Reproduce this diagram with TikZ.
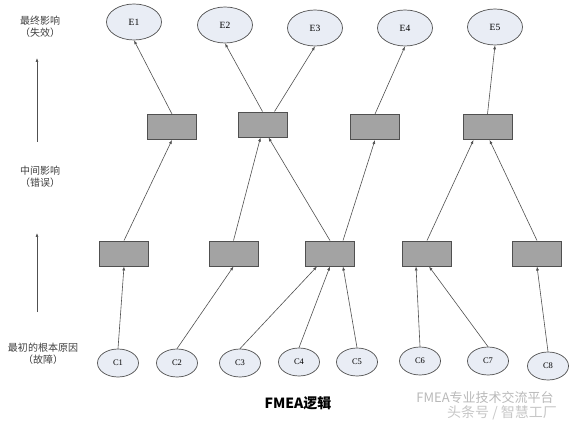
\documentclass[tikz,border=0pt]{standalone}
\usepackage{fontspec}
\setmainfont{Liberation Serif}
\newfontfamily\cjk{Noto Sans CJK SC}
\usetikzlibrary{shapes.geometric, arrows.meta, positioning, calc}
\definecolor{ovalfill}{RGB}{233,237,245}
\definecolor{boxfill}{RGB}{163,163,163}
\definecolor{edgegray}{RGB}{80,80,80}
\tikzstyle{effect} = [ellipse, draw=edgegray, line width=0.7pt, fill=ovalfill, minimum width=55pt, minimum height=36pt, inner sep=0pt, font=\fontsize{9.5}{11}\selectfont]
\tikzstyle{cause}  = [ellipse, draw=edgegray, line width=0.7pt, fill=ovalfill, minimum width=41pt, minimum height=28pt, inner sep=0pt, font=\fontsize{8.5}{10}\selectfont]
\tikzstyle{mode}   = [rectangle, draw=edgegray, line width=0.9pt, fill=boxfill, minimum width=49pt, minimum height=25pt, inner sep=0pt]
\tikzstyle{link}   = [->, >={Latex[length=4pt, width=3pt]}, line width=0.6pt, edgegray]
\tikzstyle{level}  = [align=center, text=black!75, font=\cjk\fontsize{10}{12}\selectfont]

\begin{document}
\begin{tikzpicture}[x=1pt, y=-1pt]
	\useasboundingbox (0,0) rectangle (577,427);

	% Final effects
	\node (e1) [effect] at (134,22) {E1};
	\node (e2) [effect] at (225,25) {E2};
	\node (e3) [effect] at (315,28) {E3};
	\node (e4) [effect] at (405,28) {E4};
	\node (e5) [effect] at (495,27) {E5};

	% Intermediate effects
	\node (r1) [mode] at (172,127) {};
	\node (r2) [mode] at (262.5,124.5) {};
	\node (r3) [mode] at (375,127) {};
	\node (r4) [mode] at (487.5,127) {};

	% Failure modes
	\node (m1) [mode] at (124,253.5) {};
	\node (m2) [mode] at (233.5,253.5) {};
	\node (m3) [mode] at (330,253.5) {};
	\node (m4) [mode] at (427,253.5) {};
	\node (m5) [mode] at (537,253.5) {};

	% Root causes
	\node (c1) [cause] at (118,363) {C1};
	\node (c2) [cause] at (177,363) {C2};
	\node (c3) [cause] at (240,363) {C3};
	\node (c4) [cause] at (299,362) {C4};
	\node (c5) [cause] at (357,362) {C5};
	\node (c6) [cause] at (420,361) {C6};
	\node (c7) [cause] at (488,361) {C7};
	\node (c8) [cause] at (548,366) {C8};

	% Level labels
	\node (lvl_top) [level] at (40,27)  {最终影响\\（失效）};
	\node (lvl_mid) [level] at (40,177) {中间影响\\（错误）};
	\node (lvl_bot) [level] at (43,354) {最初的根本原因\\（故障）};
	\coordinate (ax1_s) at (37,142);
	\coordinate (ax1_e) at (37,58);
	\coordinate (ax2_s) at (37,312);
	\coordinate (ax2_e) at (37,233);
	\draw[link] (ax1_s) -- (ax1_e);
	\draw[link] (ax2_s) -- (ax2_e);

	% Arrows - causes to modes
	\draw[link] (c1.north) -- (m1.south);
	\draw[link] (c2.north) -- (m2.south);
	\draw[link] (c3.north) -- ([xshift=-13pt]m3.south);
	\draw[link] (c4.north) -- (m3.south);
	\draw[link] (c5.north) -- ([xshift=13pt]m3.south);
	\draw[link] (c6.north) -- ([xshift=-11pt]m4.south);
	\draw[link] (c7.north) -- ([xshift=2pt]m4.south);
	\draw[link] (c8.north) -- (m5.south);

	% Arrows - modes to intermediate effects
	\draw[link] (m1.north) -- (r1.south);
	\draw[link] (m2.north) -- ([xshift=-2pt]r2.south);
	\draw[link] (m3.north) -- ([xshift=6pt]r2.south);
	\draw[link] ([xshift=13pt]m3.north) -- (r3.south);
	\draw[link] (m4.north) -- ([xshift=-14pt]r4.south);
	\draw[link] (m5.north) -- ([xshift=2pt]r4.south);

	% Arrows - intermediate to final effects
	\draw[link] (r1.north) -- (e1.south);
	\draw[link] (r2.north) -- (e2.south);
	\draw[link] ([xshift=12pt]r2.north) -- (e3.south);
	\draw[link] (r3.north) -- (e4.south);
	\draw[link] (r4.north) -- (e5.south);

	% Caption and watermark
	\node (title) [font=\cjk\bfseries\fontsize{14}{16}\selectfont] at (298,403) {FMEA逻辑};
	\node (wm1) [text=gray!55, font=\cjk\fontsize{13}{15}\selectfont] at (485,398) {FMEA专业技术交流平台};
	\node (wm2) [text=gray!45, font=\cjk\fontsize{14}{16}\selectfont] at (502,413) {头条号 / 智慧工厂};

\end{tikzpicture}
\end{document}
